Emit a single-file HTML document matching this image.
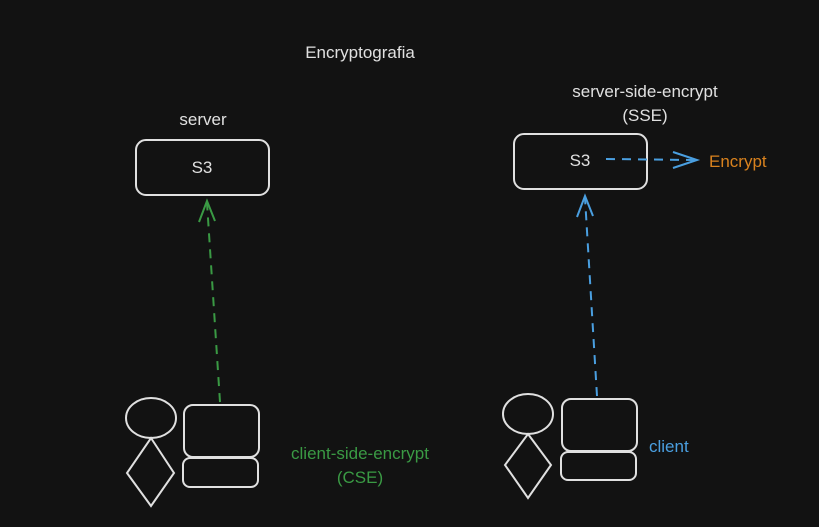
<!DOCTYPE html>
<html><head><meta charset="utf-8"><style>
html,body{margin:0;padding:0;background:#121212;}
svg{display:block}
text{font-family:"Liberation Sans",sans-serif;font-size:17px;fill:#e0e0e0}
</style></head><body>
<svg width="819" height="527" viewBox="0 0 819 527">
<rect width="819" height="527" fill="#121212"/>
<g fill="none" stroke="#e0e0e0" stroke-width="2">
<rect x="136" y="140" width="133" height="55" rx="10"/>
<rect x="514" y="134" width="133" height="55" rx="10"/>
<ellipse cx="151" cy="418" rx="25" ry="20"/>
<path d="M151 438 L174 473 L151 506 L127 473 Z"/>
<rect x="184" y="405" width="75" height="52" rx="9"/>
<rect x="183" y="458" width="75" height="29" rx="7"/>
<ellipse cx="528" cy="414" rx="25" ry="20"/>
<path d="M528 434 L551 465 L528 498 L505 465 Z"/>
<rect x="562" y="399" width="75" height="52" rx="9"/>
<rect x="561" y="452" width="75" height="28" rx="7"/>
</g>
<g fill="none" stroke="#3a9a44" stroke-width="2">
<path d="M220 402 L207 203" stroke-dasharray="9 7"/>
<path d="M199 222 L207 201 L215 221"/>
</g>
<g fill="none" stroke="#4a9fe0" stroke-width="2">
<path d="M597 396 L585 198" stroke-dasharray="9 7"/>
<path d="M577 217 L585 196 L593 216"/>
<path d="M606 159 L694 160" stroke-dasharray="9 7"/>
<path d="M673 152 L697 160 L673 168"/>
</g>
<text x="360" y="58" text-anchor="middle">Encryptografia</text>
<text x="203" y="125" text-anchor="middle">server</text>
<text x="202" y="173" text-anchor="middle">S3</text>
<text x="645" y="97" text-anchor="middle">server-side-encrypt</text>
<text x="645" y="121" text-anchor="middle">(SSE)</text>
<text x="580" y="166" text-anchor="middle">S3</text>
<text x="709" y="167" style="fill:#d9821e">Encrypt</text>
<text x="360" y="459" text-anchor="middle" style="fill:#3a9a44">client-side-encrypt</text>
<text x="360" y="483" text-anchor="middle" style="fill:#3a9a44">(CSE)</text>
<text x="649" y="452" style="fill:#4a9fe0">client</text>
</svg>
</body></html>
